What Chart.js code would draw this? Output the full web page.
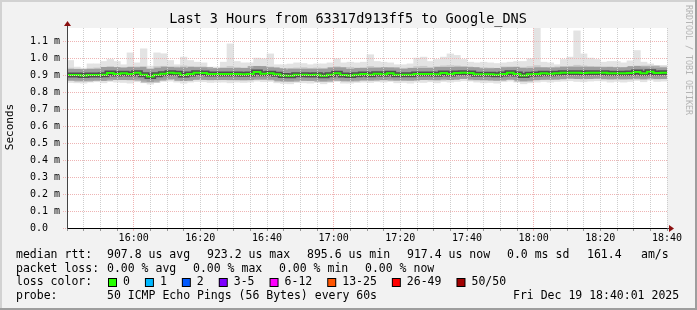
<!DOCTYPE html>
<html>
<head>
<meta charset="utf-8">
<script src="https://cdn.jsdelivr.net/npm/chart.js@4.4.1/dist/chart.umd.min.js"></script>
<style>
  html, body { margin: 0; padding: 0; background: #f2f2f2; }
  #wrap { width: 697px; height: 310px; }
</style>
</head>
<body>
<div id="wrap"><canvas id="chart" width="697" height="310"></canvas></div>
<script>
// Smokeping latency graph, last 3 hours, one sample every 2 minutes (values in us)

const stepMinutes = 2;
const xTickMinutes = [20, 40, 60, 80, 100, 120, 140, 160, 180];
const xTickLabels = ['16:00', '16:20', '16:40', '17:00', '17:20', '17:40', '18:00', '18:20', '18:40'];
const hourMinutes = [20, 80, 140];

const median = [
  904, 904, 902, 904, 904, 906, 916, 910, 914, 910, 918, 906, 896, 906, 912, 918, 914, 904, 910, 918, 916, 910, 910,
  910, 910, 910, 908, 910, 922, 912, 914, 908, 902, 900, 906, 906, 904, 906, 900, 906, 914, 904, 902, 906, 910,
  906, 912, 908, 914, 906, 906, 906, 910, 910, 910, 908, 916, 910, 916, 918, 916, 908, 908, 908, 906, 910, 918, 910,
  902, 908, 910, 914, 912, 914, 918, 918, 918, 916, 918, 918, 918, 914, 914, 914, 916, 922, 914, 924, 916, 918
];
const smokeTop = [
  990, 951, 945, 970, 970, 984, 996, 984, 965, 1035, 976, 1059, 957, 1035, 1030, 990, 965, 1010, 990, 980, 976, 951, 951,
  980, 1088, 984, 976, 976, 1004, 1000, 1029, 965, 965, 969, 976, 972, 965, 970, 970, 976, 1000, 976, 980, 976, 980,
  1024, 984, 980, 976, 965, 965, 970, 1004, 1010, 984, 996, 1010, 1029, 1020, 996, 980, 976, 980, 976, 972, 976, 980, 984,
  984, 1000, 1180, 980, 976, 965, 996, 1010, 1165, 1029, 1004, 996, 980, 984, 984, 976, 988, 1049, 980, 970, 961, 961
];
const smokeHi = [
  945, 940, 936, 944, 946, 950, 955, 948, 944, 950, 946, 952, 940, 954, 956, 950, 944, 958, 952, 948, 946, 940, 942,
  948, 955, 950, 946, 944, 956, 954, 952, 944, 942, 944, 946, 948, 944, 946, 944, 946, 954, 948, 950, 946, 948,
  955, 950, 948, 946, 942, 944, 946, 954, 956, 950, 954, 958, 960, 958, 954, 948, 946, 948, 946, 944, 946, 948, 950,
  950, 954, 960, 948, 946, 944, 954, 956, 962, 958, 954, 952, 948, 950, 950, 946, 952, 958, 948, 946, 944, 944
];
const smokeLo = [
  876, 874, 872, 874, 876, 872, 880, 878, 876, 874, 880, 874, 866, 874, 878, 882, 878, 872, 876, 880, 878, 874, 876,
  876, 874, 876, 874, 876, 884, 878, 880, 874, 870, 868, 874, 874, 872, 874, 868, 874, 880, 872, 870, 874, 876,
  874, 878, 876, 880, 874, 874, 872, 876, 876, 878, 874, 882, 876, 882, 884, 882, 876, 874, 876, 872, 878, 882, 876,
  868, 874, 876, 880, 878, 880, 882, 884, 882, 880, 882, 884, 882, 878, 880, 878, 880, 886, 878, 888, 880, 882
];
const smokeBot = [
  860, 858, 856, 862, 864, 858, 866, 862, 860, 856, 864, 858, 850, 860, 866, 868, 862, 856, 862, 866, 864, 860, 862,
  862, 858, 862, 860, 862, 868, 864, 866, 858, 854, 852, 860, 858, 856, 860, 852, 860, 866, 856, 856, 860, 862,
  860, 864, 862, 866, 858, 860, 856, 862, 860, 864, 858, 866, 862, 866, 870, 868, 862, 858, 860, 856, 864, 868, 862,
  852, 858, 862, 866, 862, 866, 868, 870, 866, 864, 868, 870, 868, 862, 866, 862, 866, 872, 864, 874, 866, 868
];

const lossLabels = ['0', '1', '2', '3-5', '6-12', '13-25', '26-49', '50/50'];
const lossColors = ['#26ff00', '#00b8ff', '#0059ff', '#7e00ff', '#ff00ff', '#ff5500', '#ff0000', '#a10000'];

const legendRows = [
  [[16, 'median rtt:'], [107, '907.8 us avg'], [207, '923.2 us max'], [307, '895.6 us min'],
   [407, '917.4 us now'], [507, '0.0 ms sd'], [587, '161.4'], [641, 'am/s']],
  [[16, 'packet loss:'], [107, '0.00 % avg'], [193, '0.00 % max'], [279, '0.00 % min'], [365, '0.00 % now']],
  [[16, 'loss color:']],
  [[16, 'probe:'], [107, '50 ICMP Echo Pings (56 Bytes) every 60s'], [513, 'Fri Dec 19 18:40:01 2025']]
];
const legendY = [255, 268.7, 282.5, 296];

const MONO = "'DejaVu Sans Mono', monospace";
Chart.defaults.font.family = MONO;

const toMs = v => v / 1000;
const bandPoints = (lo, hi) => lo.map((v, i) => ({ x: i * stepMinutes + stepMinutes / 2, y: [toMs(v), toMs(hi[i])] }));
const stepPoints = () => {
  const pts = median.map((v, i) => ({ x: i * stepMinutes, y: toMs(v) }));
  pts.push({ x: median.length * stepMinutes, y: toMs(median[median.length - 1]) });
  return pts;
};

const smokeBand = (lo, hi, color, order) => ({
  type: 'bar',
  data: bandPoints(lo, hi),
  backgroundColor: color,
  borderWidth: 0,
  grouped: false,
  barPercentage: 1,
  categoryPercentage: 1,
  order: order
});
const medianLine = (color, width, order) => ({
  type: 'line',
  data: stepPoints(),
  borderColor: color,
  borderWidth: width,
  stepped: true,
  pointRadius: 0,
  fill: false,
  clip: 0,
  borderCapStyle: 'butt',
  order: order
});

const redGrid = '#eeb4b4';
const grayGrid = '#cdcdcd';

const frame = {
  id: 'frame',
  beforeDraw(chart) {
    const { ctx, chartArea: a, width, height } = chart;
    ctx.save();
    ctx.fillStyle = '#f2f2f2';
    ctx.fillRect(0, 0, width, height);
    ctx.fillStyle = '#d2d2d2';
    ctx.fillRect(0, 0, width, 2);
    ctx.fillRect(0, 0, 2, height);
    ctx.fillStyle = '#9e9e9e';
    ctx.fillRect(0, height - 2, width, 2);
    ctx.fillRect(width - 2, 0, 2, height);
    ctx.fillStyle = '#ffffff';
    ctx.fillRect(a.left, a.top, a.right - a.left, a.bottom - a.top);
    ctx.restore();
  },
  afterDraw(chart) {
    const { ctx, chartArea: a } = chart;
    ctx.save();
    ctx.fillStyle = '#000';
    ctx.textBaseline = 'middle';

    // title
    ctx.font = '13.5px ' + MONO;
    ctx.textAlign = 'center';
    ctx.fillText('Last 3 Hours from 63317d913ff5 to Google_DNS', 348, 19);

    // y axis title
    ctx.save();
    ctx.font = '11px ' + MONO;
    ctx.translate(10, 127);
    ctx.rotate(-Math.PI / 2);
    ctx.fillText('Seconds', 0, 0);
    ctx.restore();

    // watermark
    ctx.save();
    ctx.font = '8.3px ' + MONO;
    ctx.fillStyle = '#b4b4b4';
    ctx.textAlign = 'left';
    ctx.translate(688.5, 5);
    ctx.rotate(Math.PI / 2);
    ctx.fillText('RRDTOOL / TOBI OETIKER', 0, 0);
    ctx.restore();

    // axis arrows
    ctx.strokeStyle = '#444';
    ctx.lineWidth = 1;
    ctx.beginPath();
    ctx.moveTo(a.left + 0.5, a.top);
    ctx.lineTo(a.left + 0.5, a.top - 4);
    ctx.moveTo(a.right, a.bottom + 0.5);
    ctx.lineTo(a.right + 4, a.bottom + 0.5);
    ctx.stroke();
    ctx.fillStyle = '#8b1010';
    ctx.beginPath();
    ctx.moveTo(a.left + 0.5, a.top - 7);
    ctx.lineTo(a.left - 3, a.top - 2);
    ctx.lineTo(a.left + 4, a.top - 2);
    ctx.closePath();
    ctx.fill();
    ctx.beginPath();
    ctx.moveTo(a.right + 7, a.bottom + 0.5);
    ctx.lineTo(a.right + 2, a.bottom - 3);
    ctx.lineTo(a.right + 2, a.bottom + 4);
    ctx.closePath();
    ctx.fill();

    // legend
    ctx.font = '11.5px ' + MONO;
    ctx.textAlign = 'left';
    ctx.fillStyle = '#000';
    legendRows.forEach((row, r) => {
      row.forEach(([x, txt]) => ctx.fillText(txt, x, legendY[r]));
    });
    let bx = 108;
    const by = Math.round(legendY[2] - 4.5);
    lossLabels.forEach((lbl, i) => {
      ctx.fillStyle = '#000';
      ctx.fillRect(bx, by, 9, 9);
      ctx.fillStyle = lossColors[i];
      ctx.fillRect(bx + 1, by + 1, 7, 7);
      ctx.fillStyle = '#000';
      ctx.fillText(lbl, bx + 15, legendY[2]);
      bx = bx + 15 + ctx.measureText(lbl).width + 15;
    });
    ctx.restore();
  }
};

new Chart(document.getElementById('chart'), {
  type: 'bar',
  data: {
    datasets: [
      medianLine('#26ff00', 2, 0),
      medianLine('rgba(0,0,0,0.5)', 5, 1),
      medianLine('rgba(0,0,0,0.22)', 12, 2),
      smokeBand(smokeLo, smokeHi, '#cacaca', 3),
      smokeBand(smokeBot, smokeTop, '#e3e3e3', 4)
    ]
  },
  options: {
    responsive: false,
    animation: false,
    devicePixelRatio: 1,
    events: [],
    layout: { padding: { left: 5, right: 30, top: 28, bottom: 60 } },
    plugins: { legend: { display: false }, tooltip: { enabled: false } },
    scales: {
      x: {
        type: 'linear',
        min: 0,
        max: 180,
        offset: false,
        afterFit: s => { s.height = 22; },
        grid: {
          offset: false,
          z: 1,
          color: c => hourMinutes.includes(c.tick && c.tick.value) ? redGrid : grayGrid,
          tickColor: c => hourMinutes.includes(c.tick && c.tick.value) ? redGrid : '#999',
          tickLength: 3,
          tickBorderDash: []
        },
        border: { color: '#000', z: 2, dash: [1, 1] },
        ticks: {
          stepSize: 5,
          autoSkip: false,
          maxRotation: 0,
          padding: 1,
          color: '#000',
          font: { size: 10 },
          callback: v => {
            const i = xTickMinutes.indexOf(v);
            return i >= 0 ? xTickLabels[i] : '';
          }
        }
      },
      y: {
        min: 0,
        max: 1.182,
        afterFit: s => { s.width = 62; },
        grid: {
          z: 1,
          color: redGrid,
          tickColor: redGrid,
          tickLength: 4,
          tickBorderDash: [1, 1]
        },
        border: { color: '#444', z: 2, dash: [1, 1] },
        ticks: {
          stepSize: 0.1,
          includeBounds: false,
          autoSkip: false,
          padding: 3,
          color: '#000',
          font: { size: 10 },
          callback: v => Math.abs(v) < 1e-9 ? '0.0  ' : v.toFixed(1) + ' m'
        }
      }
    }
  },
  plugins: [frame]
});
</script>
</body>
</html>
